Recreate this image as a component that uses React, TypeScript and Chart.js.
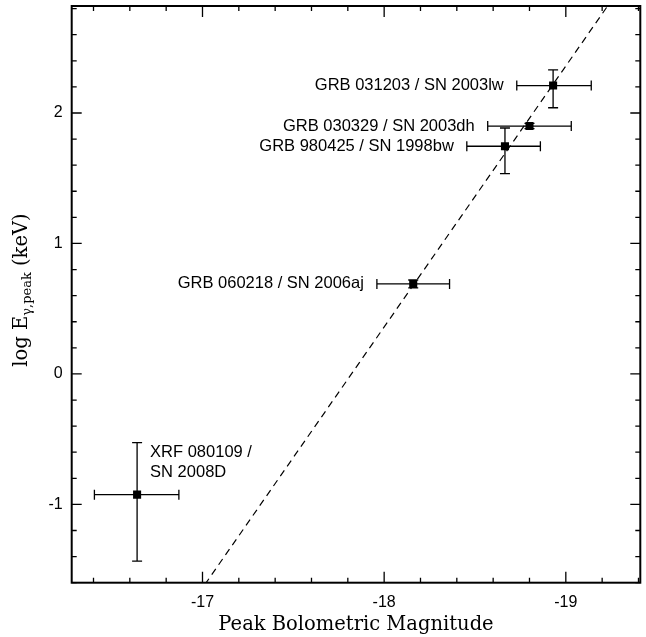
import React, { useEffect, useRef } from 'react';
import { Chart, registerables } from 'chart.js';

Chart.register(...registerables);

// ---- data ----
const NAMES = [
  'GRB 031203 / SN 2003lw',
  'GRB 030329 / SN 2003dh',
  'GRB 980425 / SN 1998bw',
  'GRB 060218 / SN 2006aj',
  'XRF 080109 /\nSN 2008D',
];
const PEAK_MAG = [-18.93, -18.8, -18.665, -18.16, -16.64];
const LOG_EPEAK = [2.21, 1.9, 1.745, 0.69, -0.925];
const MAG_FAINT = [-18.73, -18.57, -18.455, -17.96, -16.405];
const MAG_BRIGHT = [-19.14, -19.03, -18.86, -18.36, -16.87];
const LOGE_LOW = [2.04, 1.88, 1.535, 0.66, -1.435];
const LOGE_HIGH = [2.33, 1.92, 1.885, 0.72, -0.527];
// label side: 'left' = text to the left of the point, 'above' = text above-right
const LABEL_SIDE = ['left', 'left', 'left', 'left', 'above'];

const FIT_MAG = [-16.9, -19.3];
const FIT_LOGE = [-1.84, 2.96];

const X_MIN = -19.41;
const X_MAX = -16.28;
const Y_MIN = -1.6;
const Y_MAX = 2.82;
const MAJOR_STEP = 1;
const MINOR_STEP = 0.2;

const SANS = '"Liberation Sans", Arial, Helvetica, sans-serif';
const SERIF = '"DejaVu Serif", serif';

function minorValues(min: number, max: number, step: number) {
  const out: number[] = [];
  const start = Math.ceil(min / step - 1e-6);
  const end = Math.floor(max / step + 1e-6);
  for (let i = start; i <= end; i++) out.push(+(i * step).toFixed(6));
  return out;
}

const decorPlugin = {
  id: 'decor',
  beforeDatasetsDraw(chart: any) {
    const ctx = chart.ctx;
    const xs = chart.scales.x;
    const ys = chart.scales.y;
    ctx.save();
    ctx.strokeStyle = '#000';
    ctx.lineWidth = 1.3;
    const cap = 5;
    for (let i = 0; i < PEAK_MAG.length; i++) {
      const px = xs.getPixelForValue(PEAK_MAG[i]);
      const py = ys.getPixelForValue(LOG_EPEAK[i]);
      const x1 = xs.getPixelForValue(MAG_FAINT[i]);
      const x2 = xs.getPixelForValue(MAG_BRIGHT[i]);
      const y1 = ys.getPixelForValue(LOGE_LOW[i]);
      const y2 = ys.getPixelForValue(LOGE_HIGH[i]);
      ctx.beginPath();
      ctx.moveTo(x1, py); ctx.lineTo(x2, py);
      ctx.moveTo(x1, py - cap); ctx.lineTo(x1, py + cap);
      ctx.moveTo(x2, py - cap); ctx.lineTo(x2, py + cap);
      ctx.moveTo(px, y1); ctx.lineTo(px, y2);
      ctx.moveTo(px - cap, y1); ctx.lineTo(px + cap, y1);
      ctx.moveTo(px - cap, y2); ctx.lineTo(px + cap, y2);
      ctx.stroke();
    }
    ctx.restore();
  },
  afterDraw(chart: any) {
    const ctx = chart.ctx;
    const xs = chart.scales.x;
    const ys = chart.scales.y;
    const a = chart.chartArea;
    ctx.save();
    ctx.strokeStyle = '#000';
    // inward ticks on all four sides
    ctx.lineWidth = 1.3;
    ctx.beginPath();
    const xMajors = xs.ticks.map((t: any) => t.value);
    const yMajors = ys.ticks.map((t: any) => t.value);
    minorValues(xs.min, xs.max, MINOR_STEP).forEach((v) => {
      const major = xMajors.some((m: number) => Math.abs(m - v) < 1e-6);
      const len = major ? 11 : 5;
      const p = xs.getPixelForValue(v);
      ctx.moveTo(p, a.bottom); ctx.lineTo(p, a.bottom - len);
      ctx.moveTo(p, a.top); ctx.lineTo(p, a.top + len);
    });
    minorValues(ys.min, ys.max, MINOR_STEP).forEach((v) => {
      const major = yMajors.some((m: number) => Math.abs(m - v) < 1e-6);
      const len = major ? 10 : 5;
      const p = ys.getPixelForValue(v);
      ctx.moveTo(a.left, p); ctx.lineTo(a.left + len, p);
      ctx.moveTo(a.right, p); ctx.lineTo(a.right - len, p);
    });
    ctx.stroke();
    // frame
    ctx.lineWidth = 2;
    ctx.strokeRect(a.left, a.top, a.right - a.left, a.bottom - a.top);

    // point labels
    ctx.fillStyle = '#000';
    ctx.font = `16.5px ${SANS}`;
    for (let i = 0; i < NAMES.length; i++) {
      const px = xs.getPixelForValue(PEAK_MAG[i]);
      const py = ys.getPixelForValue(LOG_EPEAK[i]);
      const lines = NAMES[i].split('\n');
      if (LABEL_SIDE[i] === 'left') {
        const xl = xs.getPixelForValue(MAG_FAINT[i]);
        ctx.textAlign = 'right';
        ctx.textBaseline = 'middle';
        ctx.fillText(lines[0], xl - 13, py);
      } else {
        ctx.textAlign = 'left';
        ctx.textBaseline = 'middle';
        lines.forEach((ln, k) => {
          ctx.fillText(ln, px + 13, py - 42 + k * 20);
        });
      }
    }

    // y axis title with subscript
    const main1 = 'log E';
    const sub = 'γ,peak';
    const main2 = ' (keV)';
    ctx.font = `19.5px ${SERIF}`;
    const w1 = ctx.measureText(main1).width;
    const w3 = ctx.measureText(main2).width;
    ctx.font = `13px ${SERIF}`;
    const w2 = ctx.measureText(sub).width;
    const total = w1 + w2 + w3;
    ctx.translate(27, 290);
    ctx.rotate(-Math.PI / 2);
    ctx.textAlign = 'left';
    ctx.textBaseline = 'alphabetic';
    const s = -total / 2;
    ctx.font = `19.5px ${SERIF}`;
    ctx.fillText(main1, s, 0);
    ctx.font = `13px ${SERIF}`;
    ctx.fillText(sub, s + w1, 4);
    ctx.font = `19.5px ${SERIF}`;
    ctx.fillText(main2, s + w1 + w2, 0);
    ctx.restore();
  },
};

export default function App() {
  const ref = useRef<HTMLCanvasElement | null>(null);
  useEffect(() => {
    if (!ref.current) return;
    const chart = new Chart(ref.current, {
      type: 'scatter',
      data: {
        datasets: [
          {
            type: 'line',
            label: 'fit',
            data: FIT_MAG.map((x, i) => ({ x, y: FIT_LOGE[i] })),
            borderColor: '#000',
            borderWidth: 1.2,
            borderDash: [7, 5],
            pointRadius: 0,
            fill: false,
          } as any,
          {
            label: 'events',
            data: PEAK_MAG.map((x, i) => ({ x, y: LOG_EPEAK[i] })),
            pointStyle: 'rect',
            pointRadius: 5.7,
            backgroundColor: '#000',
            borderColor: '#000',
            borderWidth: 0,
          },
        ],
      },
      options: {
        animation: false,
        responsive: false,
        layout: { padding: { top: 6, right: 1, left: 0, bottom: 0 } },
        plugins: { legend: { display: false }, tooltip: { enabled: false } },
        scales: {
          x: {
            type: 'linear',
            reverse: true,
            min: X_MIN,
            max: X_MAX,
            grid: { display: false, drawTicks: false },
            border: { display: false },
            ticks: {
              stepSize: MAJOR_STEP,
              includeBounds: false,
              autoSkip: false,
              maxRotation: 0,
              padding: 10,
              color: '#000',
              font: { family: SANS, size: 16 },
            },
            title: {
              display: true,
              text: 'Peak Bolometric Magnitude',
              color: '#000',
              font: { family: SERIF, size: 19.5 },
              padding: { top: 0, bottom: 0 },
            },
            afterFit(s: any) {
              s.height = 54.3;
              s.paddingLeft = 0;
              s.paddingRight = 0;
              s.paddingTop = 0;
              s.paddingBottom = 0;
            },
          },
          y: {
            type: 'linear',
            min: Y_MIN,
            max: Y_MAX,
            grid: { display: false, drawTicks: false },
            border: { display: false },
            ticks: {
              stepSize: MAJOR_STEP,
              includeBounds: false,
              autoSkip: false,
              padding: 9,
              color: '#000',
              font: { family: SANS, size: 16 },
            },
            afterFit(s: any) {
              s.width = 71.7;
              s.paddingLeft = 0;
              s.paddingRight = 0;
              s.paddingTop = 0;
              s.paddingBottom = 0;
            },
          },
        },
      },
      plugins: [decorPlugin],
    });
    return () => chart.destroy();
  }, []);
  return (
    <div style={{ position: 'absolute', left: 0, top: 0, width: 646, height: 637, background: '#fff' }}>
      <canvas ref={ref} width={646} height={637} style={{ width: 646, height: 637, display: 'block' }} />
    </div>
  );
}
